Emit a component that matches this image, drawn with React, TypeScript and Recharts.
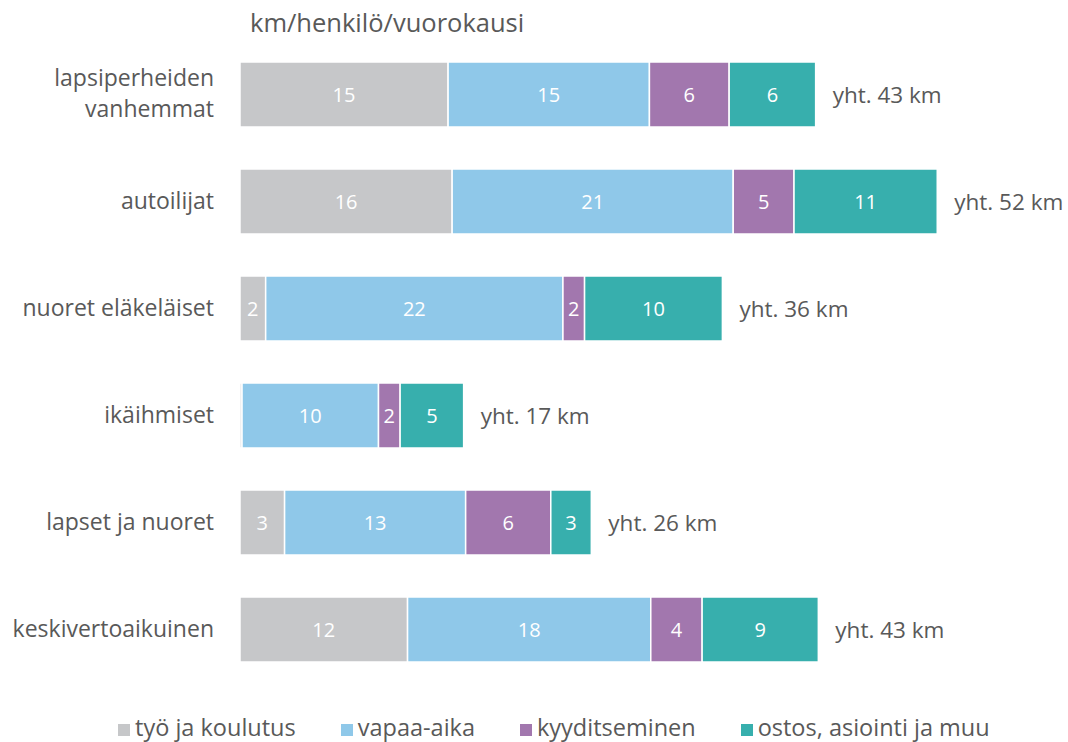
import React from 'react';
import { BarChart, Bar, XAxis, YAxis, LabelList } from 'recharts';

const categories = [
  'lapsiperheiden vanhemmat',
  'autoilijat',
  'nuoret eläkeläiset',
  'ikäihmiset',
  'lapset ja nuoret',
  'keskivertoaikuinen',
];

const tyoJaKoulutus = [15.4, 15.7, 1.9, 0.15, 3.3, 12.4];
const vapaaAika = [14.9, 20.8, 22.0, 10.1, 13.4, 18.0];
const kyyditseminen = [5.9, 4.5, 1.6, 1.6, 6.3, 3.8];
const ostos = [6.4, 10.6, 10.2, 4.7, 3.0, 8.6];

const seriesNames = ['työ ja koulutus', 'vapaa-aika', 'kyyditseminen', 'ostos, asiointi ja muu'];
const seriesKeys = ['tyo', 'vapaa', 'kyyd', 'ostos'];
const colors = ['#c6c7c9', '#8fc8e9', '#a277ae', '#37afad'];

const data = categories.map((name, i) => ({
  name,
  tyo: tyoJaKoulutus[i],
  vapaa: vapaaAika[i],
  kyyd: kyyditseminen[i],
  ostos: ostos[i],
  total: tyoJaKoulutus[i] + vapaaAika[i] + kyyditseminen[i] + ostos[i],
}));

const FONT = '"Open Sans", Lato, sans-serif';
const TEXT = '#595959';

const CategoryTick = ({ x, y, payload }: any) => {
  const label: string = payload.value;
  const lines = label === 'lapsiperheiden vanhemmat' ? ['lapsiperheiden', 'vanhemmat'] : [label];
  const startDy = -((lines.length - 1) * 31) / 2;
  return (
    <text x={x - 18} y={y} textAnchor="end" fill={TEXT} fontSize={23} fontFamily={FONT}>
      {lines.map((l, i) => (
        <tspan key={i} x={x - 18} dy={i === 0 ? startDy + 7 : 31}>
          {l}
        </tspan>
      ))}
    </text>
  );
};

const valueLabel = (props: any) => {
  const { x, y, width, height, value } = props;
  const r = Math.round(value);
  if (r < 1) return null;
  return (
    <text
      x={x + width / 2}
      y={y + height / 2 + 7}
      textAnchor="middle"
      fill="#ffffff"
      fontSize={20}
      fontFamily={FONT}
    >
      {r}
    </text>
  );
};

const totalLabel = (props: any) => {
  const { x, y, width, height, index } = props;
  const total = Math.round(data[index].total);
  return (
    <text x={x + width + 17} y={y + height / 2 + 8} fill={TEXT} fontSize={22.5} fontFamily={FONT}>
      {`yht. ${total} km`}
    </text>
  );
};

export default function App() {
  return (
    <div style={{ position: 'absolute', left: 0, top: 0, width: 1068, height: 742, background: '#fff' }}>
      <div
        style={{
          position: 'absolute',
          left: 250,
          top: 5,
          fontFamily: FONT,
          fontSize: 25.5,
          color: TEXT,
        }}
      >
        km/henkilö/vuorokausi
      </div>
      <BarChart
        width={1068}
        height={742}
        data={data}
        layout="vertical"
        margin={{ top: 41, right: 24, bottom: 59, left: 0 }}
        barSize={65}
      >
        <XAxis type="number" domain={[0, 59.5]} hide />
        <YAxis
          type="category"
          dataKey="name"
          width={240}
          axisLine={false}
          tickLine={false}
          tick={<CategoryTick />}
        />
        {seriesKeys.map((k, i) => (
          <Bar
            key={k}
            dataKey={k}
            name={seriesNames[i]}
            stackId="a"
            fill={colors[i]}
            stroke="#ffffff"
            strokeWidth={1.5}
            isAnimationActive={false}
          >
            <LabelList dataKey={k} content={valueLabel} />
            {i === seriesKeys.length - 1 && <LabelList dataKey={k} content={totalLabel} />}
          </Bar>
        ))}
      </BarChart>
      <div
        style={{
          position: 'absolute',
          left: 118,
          top: 711,
          display: 'flex',
          gap: 45,
          fontFamily: FONT,
          fontSize: 23.5,
          color: TEXT,
          whiteSpace: 'nowrap',
        }}
      >
        {seriesNames.map((n, i) => (
          <div key={n} style={{ display: 'flex', alignItems: 'center' }}>
            <span
              style={{
                display: 'inline-block',
                width: 12,
                height: 12,
                background: colors[i],
                marginRight: 5,
                marginTop: 5,
              }}
            />
            {n}
          </div>
        ))}
      </div>
    </div>
  );
}
